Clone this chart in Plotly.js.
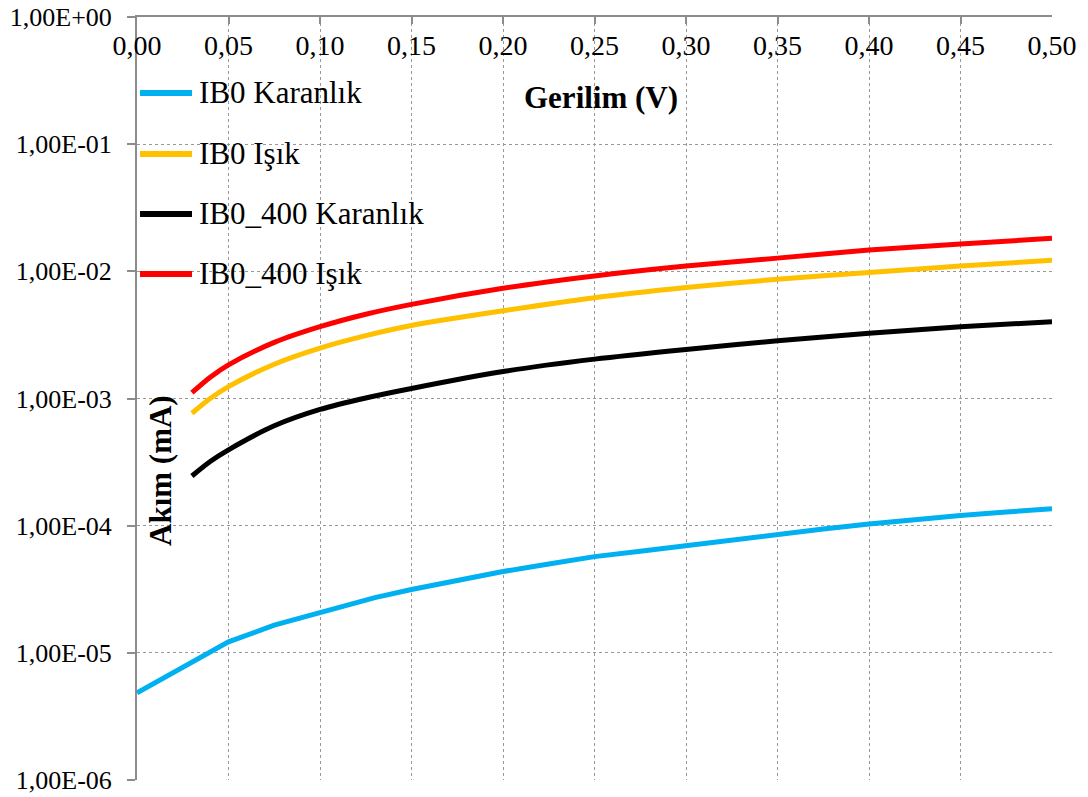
<!DOCTYPE html>
<html>
<head>
<meta charset="utf-8">
<script src="https://cdn.plot.ly/plotly-3.0.1.min.js"></script>
<style>
  html, body { margin: 0; padding: 0; background: #fff; }
  #chart { width: 1088px; height: 797px; }
</style>
</head>
<body>
<div id="chart"></div>
<script>
// Voltage (V) sample points
const vDark = [0.00, 0.025, 0.05, 0.075, 0.10, 0.13, 0.15, 0.175, 0.20, 0.225, 0.25, 0.275, 0.30, 0.325, 0.35, 0.375, 0.40, 0.425, 0.45, 0.475, 0.50];
const vMain = [0.03, 0.04, 0.05, 0.075, 0.10, 0.125, 0.15, 0.20, 0.25, 0.30, 0.35, 0.40, 0.45, 0.50];

// Current (mA)
const ib0Dark = [4.85e-6, 7.7e-6, 1.22e-5, 1.65e-5, 2.05e-5, 2.72e-5, 3.15e-5, 3.72e-5, 4.36e-5, 5.0e-5, 5.71e-5, 6.3e-5, 7.0e-5, 7.7e-5, 8.47e-5, 9.4e-5, 1.03e-4, 1.12e-4, 1.2e-4, 1.28e-4, 1.36e-4];
const ib0Light = [7.66e-4, 1.0e-3, 1.24e-3, 1.86e-3, 2.49e-3, 3.12e-3, 3.75e-3, 4.89e-3, 6.2e-3, 7.45e-3, 8.67e-3, 9.78e-3, 1.10e-2, 1.22e-2];
const ib0400Dark = [2.46e-4, 3.2e-4, 3.95e-4, 6.1e-4, 8.2e-4, 1.01e-3, 1.2e-3, 1.63e-3, 2.04e-3, 2.43e-3, 2.84e-3, 3.26e-3, 3.66e-3, 4.02e-3];
const ib0400Light = [1.11e-3, 1.47e-3, 1.84e-3, 2.76e-3, 3.67e-3, 4.6e-3, 5.5e-3, 7.36e-3, 9.2e-3, 1.1e-2, 1.27e-2, 1.47e-2, 1.64e-2, 1.82e-2];

const seriesNames = ['IB0 Karanlık', 'IB0 Işık', 'IB0_400 Karanlık', 'IB0_400 Işık'];
const seriesColors = ['#00B0F0', '#FFC000', '#000000', '#FF0000'];

const yTickVals = [1e-6, 1e-5, 1e-4, 1e-3, 1e-2, 1e-1, 1];
const yTickText = ['1,00E-06', '1,00E-05', '1,00E-04', '1,00E-03', '1,00E-02', '1,00E-01', '1,00E+00'];

const xTitle = 'Gerilim (V)';
const yTitle = 'Akım (mA)';

const serif = 'Liberation Serif, Times New Roman, serif';

const traces = [
  { x: vDark, y: ib0Dark, shape: 'linear' },
  { x: vMain, y: ib0Light, shape: 'spline' },
  { x: vMain, y: ib0400Dark, shape: 'spline' },
  { x: vMain, y: ib0400Light, shape: 'spline' }
].map((s, i) => ({
  type: 'scatter',
  mode: 'lines',
  x: s.x,
  y: s.y,
  name: seriesNames[i],
  showlegend: false,
  line: { color: seriesColors[i], width: 5, shape: s.shape, smoothing: 0.8 }
}));

// Plot area in pixels, used to place the hand-built legend
const W = 1088, H = 797;
const M = { l: 137, r: 36, t: 17, b: 17 };
const PW = W - M.l - M.r, PH = H - M.t - M.b;
const px = v => (v - M.l) / PW;
const py = v => (H - M.b - v) / PH;

const legendRows = [93, 154, 214, 274];
const shapes = [];
const annotations = [];
legendRows.forEach((row, i) => {
  shapes.push({
    type: 'line', xref: 'paper', yref: 'paper',
    x0: px(140), x1: px(192), y0: py(row), y1: py(row),
    line: { color: seriesColors[i], width: 6 }
  });
  annotations.push({
    xref: 'paper', yref: 'paper', x: px(197), y: py(row - 1),
    xanchor: 'left', yanchor: 'middle', showarrow: false,
    text: seriesNames[i],
    font: { family: serif, size: 31, color: '#000' }
  });
});

annotations.push({
  xref: 'paper', yref: 'paper', x: px(601), y: py(97),
  xanchor: 'center', yanchor: 'middle', showarrow: false,
  text: '<b>' + xTitle + '</b>',
  font: { family: serif, size: 31, color: '#000' }
});
annotations.push({
  xref: 'paper', yref: 'paper', x: px(161), y: py(471),
  xanchor: 'center', yanchor: 'middle', showarrow: false, textangle: -90,
  text: '<b>' + yTitle + '</b>',
  font: { family: serif, size: 31, color: '#000' }
});

const layout = {
  width: W, height: H,
  margin: M,
  paper_bgcolor: '#fff',
  plot_bgcolor: '#fff',
  separators: ', ',
  showlegend: false,
  xaxis: {
    side: 'top',
    range: [0, 0.5],
    dtick: 0.05,
    tick0: 0,
    tickformat: '.2f',
    showline: true, linecolor: '#8c8c8c', linewidth: 2,
    ticks: 'inside', ticklen: 7, tickwidth: 2, tickcolor: '#8c8c8c',
    ticklabelposition: 'inside',
    ticklabeloverflow: 'allow',
    ticklabelstandoff: 14,
    tickfont: { family: serif, size: 28, color: '#000' },
    showgrid: true, gridcolor: '#999', gridwidth: 1, griddash: '3px,3px',
    zeroline: false, fixedrange: true
  },
  yaxis: {
    type: 'log',
    range: [-6, 0],
    tickvals: yTickVals,
    ticktext: yTickText,
    showline: true, linecolor: '#8c8c8c', linewidth: 2,
    ticks: 'outside', ticklen: 8, tickwidth: 2, tickcolor: '#8c8c8c',
    ticklabeloverflow: 'allow',
    ticklabelstandoff: 10,
    tickfont: { family: serif, size: 26, color: '#000' },
    showgrid: true, gridcolor: '#999', gridwidth: 1, griddash: '3px,3px',
    zeroline: false, fixedrange: true
  },
  shapes: shapes,
  annotations: annotations
};

Plotly.newPlot('chart', traces, layout, { staticPlot: true, displayModeBar: false });
</script>
</body>
</html>
